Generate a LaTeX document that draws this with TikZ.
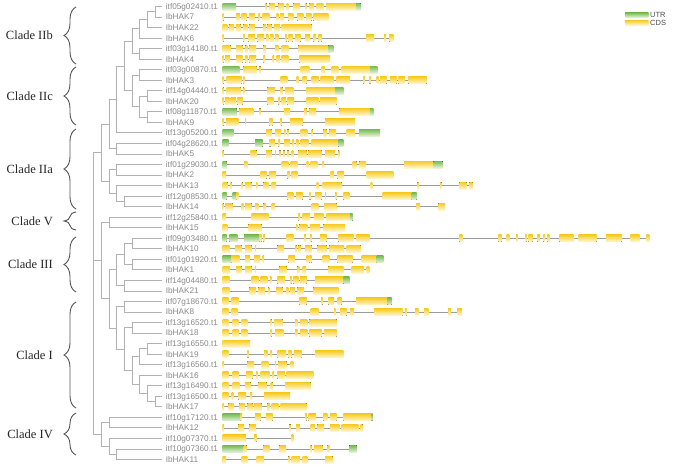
\documentclass[tikz,border=0pt]{standalone}
\usepackage{fontspec}
\setmainfont{Liberation Serif}
\newfontfamily\labfont{Liberation Sans}
\usetikzlibrary{decorations.pathreplacing,calc}
\definecolor{treegray}{HTML}{B2B2B2}
\definecolor{labgray}{HTML}{8A8A8A}
\definecolor{linegray}{HTML}{9C9C9C}
\definecolor{bracegray}{HTML}{555555}
\definecolor{cdsT}{HTML}{F7CB25}
\definecolor{cdsB}{HTML}{FFF7CF}
\definecolor{utrT}{HTML}{78BC55}
\definecolor{utrB}{HTML}{E6F3DC}
\tikzset{
  tree/.style={draw=treegray, line width=0.9pt},
  gline/.style={draw=linegray, line width=0.8pt},
  c box/.style={top color=cdsT, bottom color=cdsB},
  u box/.style={top color=utrT, bottom color=utrB},
  lab/.style={anchor=base west, inner sep=0pt, text=labgray, font=\labfont\fontsize{8.2}{9}\selectfont},
  clade/.style={anchor=east, inner sep=0pt, text=black!85, font=\fontsize{12.5}{14}\selectfont},
  brc/.style={draw=bracegray, line width=0.9pt, decorate, decoration={brace, amplitude=12pt}},
  leg/.style={anchor=west, inner sep=0pt, text=black!70, font=\labfont\fontsize{7.5}{8}\selectfont}
}
\newcommand\myjoin[4]{%
  \path (#3) -- (#4) coordinate[pos=.5] (m#1);
  \coordinate (#1) at (#2,0 |- m#1);
  \draw[tree] (#3) -- (#3 -| #1) -- (#4 -| #1) -- (#4);}
\newcommand\mygene[3]{%
  \pgfmathsetmacro\gy{6.5+(#1-1)*10.535}%
  \draw[gline] (222.7,\gy) -- (#2,\gy);
  \foreach \a/\b/\t in {#3}{\fill[\t\space box] (\a,\gy-3.5) rectangle (\b,\gy+3.5);}}
\begin{document}
\begin{tikzpicture}[x=1pt,y=-1pt]
\fill[white] (0,0) rectangle (676,472);
\useasboundingbox (0,0) rectangle (676,472);
% labels and leaf coordinates
\foreach \n [count=\i] in {itf05g02410.t1,IbHAK7,IbHAK22,IbHAK6,itf03g14180.t1,IbHAK4,itf03g00870.t1,IbHAK3,itf14g04440.t1,IbHAK20,itf08g11870.t1,IbHAK9,itf13g05200.t1,itf04g28620.t1,IbHAK5,itf01g29030.t1,IbHAK2,IbHAK13,itf12g08530.t1,IbHAK14,itf12g25840.t1,IbHAK15,itf09g03480.t1,IbHAK10,itf01g01920.t1,IbHAK1,itf14g04480.t1,IbHAK21,itf07g18670.t1,IbHAK8,itf13g16520.t1,IbHAK18,itf13g16550.t1,IbHAK19,itf13g16560.t1,IbHAK16,itf13g16490.t1,itf13g16500.t1,IbHAK17,itf10g17120.t1,IbHAK12,itf10g07370.t1,itf10g07360.t1,IbHAK11}
{
  \pgfmathsetmacro\ly{6.5+(\i-1)*10.535}
  \coordinate (r\i) at (162.3,\ly);
  \node[lab] (lab\i) at (165.7,\ly+2.9) {\n};
}
% tree: group A
\myjoin{nAa}{155}{r1}{r2}
\myjoin{nAb}{147}{nAa}{r3}
\myjoin{nAc}{139.7}{nAb}{r4}
\myjoin{nAd}{139.7}{r5}{r6}
\myjoin{cIIb}{132.3}{nAc}{nAd}
\myjoin{nBa}{139.7}{r7}{r8}
\myjoin{nBb}{147}{r9}{r10}
\myjoin{nBc}{147}{r11}{r12}
\myjoin{nBd}{139.7}{nBb}{nBc}
\myjoin{cIIc}{132.3}{nBa}{nBd}
\myjoin{nCa}{124.3}{cIIb}{cIIc}
\myjoin{nCb}{116.3}{nCa}{r13}
\myjoin{nCc}{116.3}{r14}{r15}
\myjoin{nCd}{109}{nCb}{nCc}
\myjoin{nDa}{116.3}{r16}{r17}
\myjoin{nDb}{124.3}{r19}{r20}
\myjoin{nDc}{116.3}{r18}{nDb}
\myjoin{nDd}{109}{nDa}{nDc}
\myjoin{gA}{101}{nCd}{nDd}
% group B
\myjoin{nEa}{109}{r21}{r22}
\myjoin{nEb}{132.3}{r23}{r24}
\myjoin{nEc}{132.3}{r25}{r26}
\myjoin{nEd}{124.3}{nEb}{nEc}
\myjoin{nEe}{124.3}{r27}{r28}
\myjoin{cIII}{116.3}{nEd}{nEe}
\myjoin{nFa}{124.3}{r29}{r30}
\myjoin{nFb}{132.3}{r31}{r32}
\myjoin{nFc}{147}{r33}{r34}
\myjoin{nFd}{139.7}{nFc}{r35}
\myjoin{nFe}{155}{r38}{r39}
\myjoin{nFf}{147}{r37}{nFe}
\myjoin{nFg}{139.7}{r36}{nFf}
\myjoin{nFh}{132.3}{nFd}{nFg}
\myjoin{nFi}{124.3}{nFb}{nFh}
\myjoin{cI}{116.3}{nFa}{nFi}
\myjoin{nGa}{109}{cIII}{cI}
\myjoin{gB}{101}{nEa}{nGa}
% group C
\myjoin{nHa}{109}{r40}{r41}
\myjoin{nHb}{116.3}{r43}{r44}
\myjoin{nHc}{109}{r42}{nHb}
\myjoin{gC}{101}{nHa}{nHc}
% root
\coordinate (root) at (93.3,0 |- gA);
\draw[tree] (gA) -- (gA -| root) -- (gC -| root) -- (gC);
\draw[tree] (gB) -- (gB -| root);
% braces
\coordinate (bIIbT) at (76,7);   \coordinate (bIIbB) at (76,64);
\coordinate (bIIcT) at (76,67);  \coordinate (bIIcB) at (76,125);
\coordinate (bIIaT) at (76,129); \coordinate (bIIaB) at (76,209);
\coordinate (bVT) at (76,212);   \coordinate (bVB) at (76,230);
\coordinate (bIIIT) at (76,237); \coordinate (bIIIB) at (76,292);
\coordinate (bIT) at (76,302);   \coordinate (bIB) at (76,408);
\coordinate (bIVT) at (76,413);  \coordinate (bIVB) at (76,455);
\draw[brc] (bIIbB) -- (bIIbT);
\draw[brc] (bIIcB) -- (bIIcT);
\draw[brc] (bIIaB) -- (bIIaT);
\draw[brc] (bVB) -- (bVT);
\draw[brc] (bIIIB) -- (bIIIT);
\draw[brc] (bIB) -- (bIT);
\draw[brc] (bIVB) -- (bIVT);
\node[clade] (tIIb) at (53,35.5) {Clade IIb};
\node[clade] (tIIc) at (53,96) {Clade IIc};
\node[clade] (tIIa) at (53,169) {Clade IIa};
\node[clade] (tV) at (53,221) {Clade V};
\node[clade] (tIII) at (53,264.5) {Clade III};
\node[clade] (tI) at (53,355) {Clade I};
\node[clade] (tIV) at (53,434) {Clade IV};
% legend
\fill[u box] (625,12.7) rectangle (648.3,17.5);
\fill[c box] (625,20.2) rectangle (648.3,25);
\node[leg] (legU) at (650,15.1) {UTR};
\node[leg] (legC) at (650,22.6) {CDS};
% gene structures
\mygene{1}{360.7}{222.7/236/u, 265/266.7/c, 269.3/275/c, 278.3/284/c, 286.7/288.3/c, 293.3/300/c, 305/306.7/c, 309.3/314/c, 316.7/323.3/c, 326/356.7/c, 356.7/360.7/u}
\mygene{2}{328.3}{222.7/223.5/c, 236/240/c, 241.7/246.7/c, 249/255/c, 258.3/260/c, 262.7/269.3/c, 276.7/278.3/c, 280/284/c, 288.3/293.3/c, 297.3/303.3/c, 306/311.7/c, 313.3/328.3/c}
\mygene{3}{311.7}{222.7/227.3/c, 229.3/234/c, 236/240.7/c, 243.3/247.3/c, 249.3/255/c, 263.3/266/c, 267.3/271.7/c, 274/280/c, 281.7/311.7/c}
\mygene{4}{393.3}{222.7/223.5/c, 243.3/245/c, 248.3/255/c, 257.3/264/c, 266/268.3/c, 270/273.3/c, 275/278.3/c, 285/286.7/c, 288.3/292.7/c, 295/300.7/c, 305/310/c, 313.3/316/c, 318.3/321.7/c, 366/374/c, 384/386/c, 389.3/393.3/c}
\mygene{5}{333.3}{222.7/230.7/c, 236/242.7/c, 245.3/247.3/c, 249.3/256/c, 263.3/266/c, 275/278.3/c, 281.7/288.3/c, 298.3/328.3/c, 328.3/333.3/u}
\mygene{6}{330}{222.7/223.5/c, 225/230/c, 236/242.7/c, 245.3/247.3/c, 249.3/256/c, 263.3/265/c, 272.7/274/c, 276.7/280/c, 281.7/288.3/c, 299.3/330/c}
\mygene{7}{377.3}{222.7/239.3/u, 243.3/256.7/c, 259.3/260.7/c, 300.7/309.3/c, 321.7/325/c, 331.7/338.3/c, 341.7/370/c, 370/377.3/u}
\mygene{8}{426.7}{222.7/223.5/c, 226.7/241.7/c, 243.3/244.3/c, 280.7/287.3/c, 296.7/298.3/c, 302.7/306.7/c, 311.7/318.3/c, 320.7/333.3/c, 336.7/350/c, 363.3/365/c, 369.3/370.7/c, 376.7/378.3/c, 380/386.7/c, 390/396.7/c, 398.3/405/c, 408.3/426.7/c}
\mygene{9}{343.3}{222.7/223.5/c, 226.7/240.7/c, 243.3/244.3/c, 267.3/275/c, 280/282.7/c, 285/293.3/c, 306.7/335/c, 335/343.3/u}
\mygene{10}{336.7}{222.7/223.5/c, 225/229.3/c, 230.7/236/c, 237.3/242.7/c, 267.3/273.3/c, 278.3/280/c, 281.7/286/c, 287.3/294/c, 306.7/318.3/c, 320/336.7/c}
\mygene{11}{373.3}{222.7/236.7/u, 239.3/253.3/c, 259.3/260.7/c, 284/290/c, 304/306.7/c, 309.3/316/c, 339.3/370/c, 370/373.3/u}
\mygene{12}{355}{222.7/223.5/c, 226/238.3/c, 245/246/c, 269.3/272.7/c, 280/281.7/c, 290/302.7/c, 325/355/c}
\mygene{13}{380}{222.7/233.3/u, 266/271.7/c, 275/281/c, 284/285.3/c, 287.3/288.7/c, 300.7/307.3/c, 311.7/312.7/c, 323.3/326.7/c, 329.3/336/c, 346.7/355/c, 359/380/u}
\mygene{14}{343.3}{222.7/228.3/u, 255/262.7/u, 269.3/270.7/c, 271/275/c, 278.3/280/c, 284/290/c, 292.7/294/c, 296/298.3/c, 300.7/308.3/c, 311.7/338.3/c, 338.3/343.3/u}
\mygene{15}{339.3}{222.7/223.5/c, 250.7/256.7/c, 266/271.7/c, 275/276/c, 279.3/280.7/c, 283.3/284.7/c, 287.3/288.7/c, 291.7/293.3/c, 298.3/306.7/c, 308.3/321.7/c, 325/335/c, 338.3/339.3/c}
\mygene{16}{442.7}{222.7/226.7/u, 244/247.3/c, 281.7/288.3/c, 290.7/297.3/c, 306.7/308.3/c, 310.7/317.3/c, 322.7/324/c, 352.7/356.7/c, 359.3/366/c, 404/433.3/c, 433.3/442.7/u}
\mygene{17}{393.3}{222.7/226/c, 260.7/266.7/c, 269.3/276/c, 287.3/290/c, 291.7/297.3/c, 330.7/334/c, 337.3/344/c, 366.7/393.3/c}
\mygene{18}{472.7}{222.7/227.7/c, 230.5/231.5/c, 241.7/242.7/c, 245/251.7/c, 256/257.3/c, 263.3/268.3/c, 271.7/276/c, 316.7/318.3/c, 322.7/341.7/c, 370.7/372.3/c, 417.3/419/c, 440/441.7/c, 459.3/466.7/c, 469.3/472.7/c}
\mygene{19}{416.7}{222.7/226.7/u, 232.7/236.7/u, 236.7/238.3/c, 287.3/293.3/c, 296/302.7/c, 309.3/310.7/c, 315/321.7/c, 325/326/c, 335/336.7/c, 343.3/349.3/c, 382.7/411.7/c, 411.7/416.7/u}
\mygene{20}{445}{222.7/223.5/c, 225/232.7/c, 241.7/243.3/c, 245/251.7/c, 255/258.3/c, 263.3/266/c, 271.7/275/c, 311.7/318.3/c, 324/336.7/c, 416/420/c, 438.3/445/c}
\mygene{21}{352.7}{222.7/226/c, 251.7/268.3/c, 298.3/300/c, 302.7/310/c, 314/323.3/c, 326.7/350/c, 350/352.7/u}
\mygene{22}{345}{222.7/227.3/c, 248.3/261.7/c, 296/297.3/c, 299.3/307.3/c, 310/320/c, 323.3/345/c}
\mygene{23}{649.3}{222.7/226.7/u, 229.3/237.3/u, 244/259.3/u, 259.3/261.7/c, 263.3/265/c, 286.7/293.3/c, 304/306/c, 310/311.7/c, 320/326.7/c, 338.3/353.3/c, 356/369.3/c, 459.3/462.3/c, 498.3/501.7/c, 506.7/509.3/c, 516/517.3/c, 525/526.7/c, 528.3/532.7/c, 537.3/540/c, 543.3/545/c, 547.3/549.3/c, 559.3/573.3/c, 578.7/596.7/c, 606/621.7/c, 630.7/639.3/c, 646.7/649.3/c}
\mygene{24}{360.7}{222.7/229.3/c, 235/241.7/c, 245/251.7/c, 255/256/c, 277.3/284/c, 295/296.7/c, 298.3/300.7/c, 305/311.7/c, 317.3/326.7/c, 329.3/344/c, 346.7/360.7/c}
\mygene{25}{383.3}{222.7/231.7/u, 231.7/239.3/c, 245/250/c, 254/260/c, 262.7/264/c, 288.3/295/c, 306.7/308.3/c, 309.3/311.7/c, 322.7/329.3/c, 337.3/352.7/c, 361.7/376.7/c, 376.7/383.3/u}
\mygene{26}{369.3}{222.7/230/c, 236/241.7/c, 245/251.7/c, 255/256/c, 279.3/286.7/c, 297.3/299.3/c, 302.7/306/c, 328.3/343.3/c, 351.7/364/c, 366.7/369.3/c}
\mygene{27}{349.3}{222.7/229.3/c, 251.7/258.3/c, 260.7/267.3/c, 270/271.3/c, 277.3/285/c, 290/291.7/c, 293.3/298.3/c, 300/306.7/c, 315/343.3/c, 343.3/349.3/u}
\mygene{28}{338.3}{222.7/229.3/c, 249.3/256/c, 258.3/265/c, 268.3/269.3/c, 276/282.7/c, 286/288.3/c, 290/295/c, 297.3/304/c, 313.3/338.3/c}
\mygene{29}{391.7}{222.7/228.3/c, 231.7/238.3/c, 299.3/306.7/c, 321/322.7/c, 328.3/334/c, 337.7/341.7/c, 356/387.3/c, 387.3/391.7/u}
\mygene{30}{462}{222.7/228.3/c, 231.7/237.3/c, 310.7/318.3/c, 334/335.3/c, 340/346.7/c, 350/354/c, 374/402.7/c, 405/406.7/c, 415/418.3/c, 424/428.3/c, 448/451/c, 457/462/c}
\mygene{31}{336.7}{222.7/228.3/c, 232.7/238.3/c, 241.7/247.3/c, 270/271.7/c, 274/282.7/c, 295/297.3/c, 300/307.3/c, 309.3/336.7/c}
\mygene{32}{336.7}{222.7/228.3/c, 232.7/238.3/c, 241.7/247.3/c, 270.7/271.7/c, 275/283.3/c, 295/297.3/c, 300/307.3/c, 309.3/321.7/c, 324/336.7/c}
\mygene{33}{250}{222.7/250/c}
\mygene{34}{343.3}{222.7/228.3/c, 247.3/248.7/c, 264/267.3/c, 270.7/272/c, 277.3/286/c, 288.3/291.7/c, 294/301.7/c, 315/343.3/c}
\mygene{35}{293.3}{222.7/224/c, 247.3/254/c, 261.7/268.3/c, 275/276/c, 278.3/286.7/c, 290.7/293.3/c}
\mygene{36}{313.3}{222.7/228.3/c, 232.7/238.3/c, 246/252.7/c, 256/257.3/c, 260.7/269.3/c, 272.7/274/c, 277.3/285/c, 286.7/313.3/c}
\mygene{37}{310.7}{222.7/228.3/c, 232.7/239.3/c, 245/250.7/c, 258.3/266.7/c, 270.7/272.7/c, 285/310.7/c}
\mygene{38}{290}{222.7/228.3/c, 231.7/233.3/c, 238.3/246/c, 250/252/c, 264/290/c}
\mygene{39}{306.7}{222.7/224/c, 228.3/233.3/c, 239.3/245/c, 247.3/252.7/c, 254/261.7/c, 267.3/270/c, 271.7/278.3/c, 280.7/306.7/c}
\mygene{40}{372.7}{222.7/240.7/u, 240.7/242/c, 255/260.7/c, 266/272.7/c, 305/306.7/c, 308.3/316/c, 323.3/327.3/c, 330/336.7/c, 343.3/371.7/c, 371.7/372.7/u}
\mygene{41}{362.7}{222.7/224/c, 238.3/244/c, 249.3/256/c, 289.3/290.7/c, 296/300/c, 310.7/315/c, 317.3/324/c, 330/339.3/c, 341.7/358.3/c, 360.7/362.7/c}
\mygene{42}{293.3}{222.7/246/c, 254/256.7/c, 291.7/293.3/c}
\mygene{43}{356.7}{222.7/243.3/u, 243.3/246.7/c, 263.3/269.3/c, 279.3/286/c, 310/311.7/c, 314/322.7/c, 327.3/329.3/c, 349.3/356.7/u}
\mygene{44}{332.7}{222.7/226/c, 241.7/247.3/c, 256.7/264/c, 288.3/290/c, 291.7/300/c, 302.7/307.3/c, 325/332.7/c}
\end{tikzpicture}
\end{document}
